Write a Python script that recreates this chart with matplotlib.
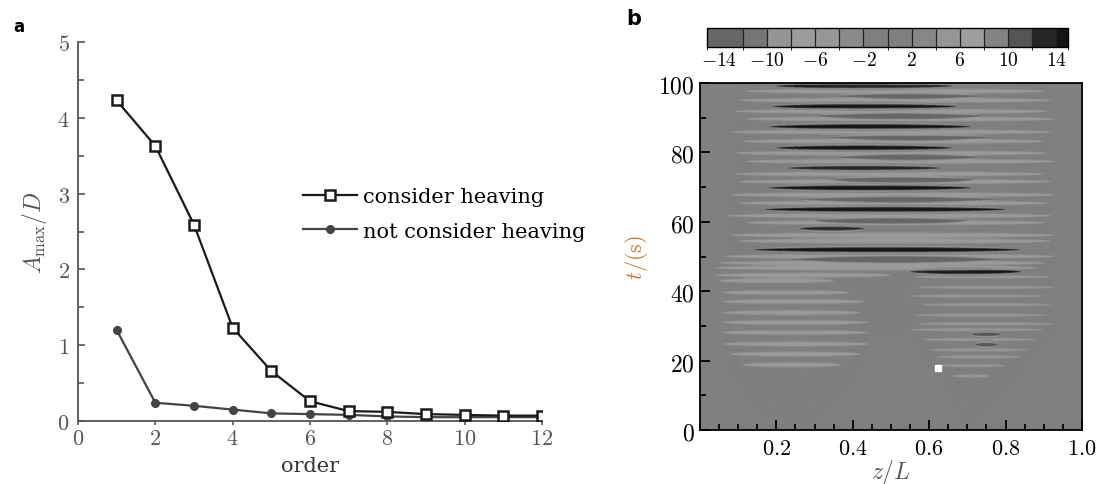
import numpy as np
import matplotlib
matplotlib.use("Agg")
import matplotlib.pyplot as plt
from matplotlib.colors import ListedColormap, BoundaryNorm
from matplotlib.ticker import FuncFormatter, MultipleLocator
import matplotlib.colorbar as mcolorbar

plt.rcParams['mathtext.fontset'] = 'cm'

# ---------------- panel a data ----------------
order = [1, 2, 3, 4, 5, 6, 7, 8, 9, 10, 11, 12]
heave = [4.23, 3.63, 2.59, 1.23, 0.66, 0.26, 0.13, 0.12, 0.09, 0.08, 0.07, 0.07]
no_heave = [1.20, 0.24, 0.20, 0.15, 0.10, 0.09, 0.08, 0.06, 0.05, 0.05, 0.05, 0.05]

# ---------------- panel b data (streaks) ----------------
# dark streaks: centre time, z start, z end, level
dark_t = [98.9, 93.0, 87.2, 81.1, 75.3, 69.6, 63.4, 57.9, 51.8, 45.5, 27.5, 24.5]
dark_z0 = [0.20, 0.19, 0.18, 0.20, 0.23, 0.18, 0.17, 0.26, 0.14, 0.55, 0.71, 0.72]
dark_z1 = [0.66, 0.67, 0.71, 0.66, 0.63, 0.71, 0.80, 0.43, 0.84, 0.84, 0.79, 0.78]
dark_amp = [14.5, 14.5, 14.5, 14.5, 13, 14.5, 14.5, 12.5, 14.5, 14.5, 11, 11]

# medium grey streaks
mid_t = [96.0, 90.3, 84.1, 78.4, 72.0, 66.3, 60.2, 49.0]
mid_z0 = [0.35, 0.30, 0.33, 0.35, 0.34, 0.25, 0.30, 0.23]
mid_z1 = [0.75, 0.75, 0.78, 0.75, 0.72, 0.79, 0.70, 0.80]

# light stripes, upper part
light_t = [100.0, 97.4, 94.8, 91.6, 89.4, 85.7, 83.0, 79.6, 77.2, 73.6, 71.4,
           67.6, 65.2, 61.6, 59.6, 56.0, 54.3, 49.9, 48.0, 46.6]
light_z0 = [0.10, 0.12, 0.10, 0.09, 0.12, 0.08, 0.11, 0.09, 0.12, 0.09, 0.10,
            0.08, 0.10, 0.07, 0.12, 0.08, 0.10, 0.06, 0.05, 0.04]
light_z1 = [0.88, 0.90, 0.92, 0.91, 0.93, 0.92, 0.90, 0.91, 0.93, 0.90, 0.92,
            0.93, 0.91, 0.92, 0.90, 0.93, 0.92, 0.93, 0.90, 0.88]

# light stripes, lower left block
lowl_t = [44.5, 42.9, 39.5, 36.9, 33.7, 30.9, 28.0, 24.7, 21.8, 18.7]
lowl_z0 = [0.04, 0.05, 0.06, 0.06, 0.06, 0.06, 0.06, 0.06, 0.08, 0.11]
lowl_z1 = [0.50, 0.35, 0.39, 0.43, 0.42, 0.44, 0.44, 0.44, 0.42, 0.37]

# fainter light stripes, lower right block
lowr_t = [44.0, 41.0, 38.5, 36.0, 33.0, 30.5, 28.8, 26.0, 23.0, 21.0, 18.5, 15.5]
lowr_z0 = [0.56, 0.57, 0.55, 0.58, 0.56, 0.57, 0.55, 0.58, 0.60, 0.62, 0.63, 0.66]
lowr_z1 = [0.92, 0.93, 0.90, 0.92, 0.91, 0.93, 0.90, 0.88, 0.86, 0.84, 0.80, 0.76]

probe_z = [0.623]
probe_t = [18.0]

# colour scale
cb_edges = [-15, -12, -10, -8, -6, -4, -2, 0, 2, 4, 6, 8, 10, 12, 14, 15]
cb_colors = ['#666666', '#767676', '#959595', '#9b9b9b', '#979797', '#8b8b8b',
             '#7f7f7f', '#808080', '#878787', '#969696', '#9d9d9d', '#838383',
             '#555555', '#262626', '#141414']
cb_ticks = [-14, -10, -6, -2, 2, 6, 10, 14]

# ---------------- build the field ----------------
z = np.linspace(0, 1, 500)
t = np.linspace(0, 100, 1201)
Z, T = np.meshgrid(z, t)
field = np.zeros_like(Z)


def add_streaks(field, tc_list, z0_list, z1_list, amps, sigma, power, sharp):
    # spindle shaped streak: thickness shrinks to zero at both ends
    for tc, z0, z1, a in zip(tc_list, z0_list, z1_list, amps):
        zc = 0.5 * (z0 + z1)
        hw = 0.5 * (z1 - z0)
        win = np.clip(1 - ((Z - zc) / hw) ** 2, 0, 1) ** power
        width = sigma * win + 1e-6
        part = a * np.exp(-np.abs((T - tc) / width) ** sharp)
        part[win <= 0] = 0
        field += part
    return field


field = add_streaks(field, dark_t, dark_z0, dark_z1, dark_amp, 1.05, 0.6, 3)
field = add_streaks(field, mid_t, mid_z0, mid_z1, [-12.5] * len(mid_t), 0.8, 0.6, 3)
field = add_streaks(field, light_t, light_z0, light_z1, [-7.5] * len(light_t), 0.75, 0.45, 2)
field = add_streaks(field, lowl_t, lowl_z0, lowl_z1, [-7.5] * len(lowl_t), 0.7, 0.45, 2)
field = add_streaks(field, lowr_t, lowr_z0, lowr_z1, [-5.5] * len(lowr_t), 0.55, 0.5, 2)
field = np.clip(field, -14.9, 14.9)

cmap = ListedColormap(cb_colors)
norm = BoundaryNorm(cb_edges, cmap.N)

math_fmt = FuncFormatter(lambda v, p: f'${v:g}$')

fig = plt.figure(figsize=(11.02, 4.85), dpi=100)

# ---------------- panel a ----------------
axa = fig.add_axes([0.0708, 0.13, 0.421, 0.781])
axa.plot(order, heave, color='#1a1a1a', lw=1.6, marker='s', ms=7, mfc='white',
         mec='#1a1a1a', mew=1.8, label='consider heaving', zorder=3)
axa.plot(order, no_heave, color='#444444', lw=1.6, marker='o', ms=5.5, mfc='#444444',
         mec='#444444', label='not consider heaving', zorder=2)
axa.set_xlim(0, 12)
axa.set_ylim(0, 5)
axa.xaxis.set_major_locator(MultipleLocator(2))
axa.yaxis.set_major_locator(MultipleLocator(1))
axa.yaxis.set_minor_locator(MultipleLocator(0.5))
axa.xaxis.set_major_formatter(math_fmt)
axa.yaxis.set_major_formatter(math_fmt)
for s in ['top', 'right']:
    axa.spines[s].set_visible(False)
for s in ['left', 'bottom']:
    axa.spines[s].set_color('#555555')
    axa.spines[s].set_linewidth(1.3)
axa.tick_params(axis='y', which='both', direction='in', colors='#555555',
                labelsize=16, length=5, width=1.2, pad=6)
axa.tick_params(axis='y', which='minor', length=4)
axa.tick_params(axis='x', direction='out', colors='#555555', labelsize=16,
                length=3, width=1.2, pad=2)
axa.set_ylabel(r'$A_{\max}/D$', fontsize=17, color='#555555', labelpad=6)
axa.set_xlabel('order', fontsize=15, family='DejaVu Serif', color='#333333', labelpad=6)
axa.legend(loc='upper left', bbox_to_anchor=(0.462, 0.645), frameon=False,
           prop={'family': 'DejaVu Serif', 'size': 15}, handlelength=2.6,
           handletextpad=0.3, labelspacing=0.75, borderpad=0)
fig.text(0.012, 0.935, 'a', fontsize=12, fontweight='bold', family='DejaVu Sans')

# ---------------- panel b ----------------
axb = fig.add_axes([0.6352, 0.1113, 0.3466, 0.7155])
axb.imshow(field, origin='lower', extent=[0, 1, 0, 100], aspect='auto',
           cmap=cmap, norm=norm, interpolation='bilinear')
axb.plot(probe_z, probe_t, 's', color='white', ms=5, mec='white')
axb.set_xlim(0, 1)
axb.set_ylim(0, 100)
axb.set_xticks([0.2, 0.4, 0.6, 0.8, 1.0])
axb.xaxis.set_minor_locator(MultipleLocator(0.05))
axb.yaxis.set_major_locator(MultipleLocator(20))
axb.yaxis.set_minor_locator(MultipleLocator(10))
axb.xaxis.set_major_formatter(FuncFormatter(lambda v, p: f'${v:.1f}$'))
axb.yaxis.set_major_formatter(math_fmt)
for s in axb.spines.values():
    s.set_linewidth(1.3)
axb.tick_params(which='both', direction='in', width=1.3)
axb.tick_params(which='major', length=7)
axb.tick_params(which='minor', length=4)
axb.tick_params(axis='x', labelsize=16, pad=6)
axb.tick_params(axis='y', labelsize=17, pad=4)
axb.set_xlabel(r'$z/L$', fontsize=17, color='#555555', labelpad=-1)
axb.set_ylabel(r'$t/(\mathrm{s})$', fontsize=16, color='#c8782f', labelpad=6)
fig.text(0.568, 0.948, 'b', fontsize=15, fontweight='bold', family='DejaVu Sans')

# colour bar
cax = fig.add_axes([0.6416, 0.901, 0.3276, 0.039])
cb = mcolorbar.ColorbarBase(cax, cmap=cmap, norm=norm, boundaries=cb_edges,
                            orientation='horizontal', drawedges=True,
                            spacing='proportional', ticks=cb_ticks)
cb.outline.set_linewidth(1.0)
cb.dividers.set_linewidth(0.9)
cb.dividers.set_color('#222222')
cax.xaxis.set_major_formatter(math_fmt)
cax.tick_params(length=0, labelsize=14, pad=2)

fig.savefig('out.png', dpi=100)
